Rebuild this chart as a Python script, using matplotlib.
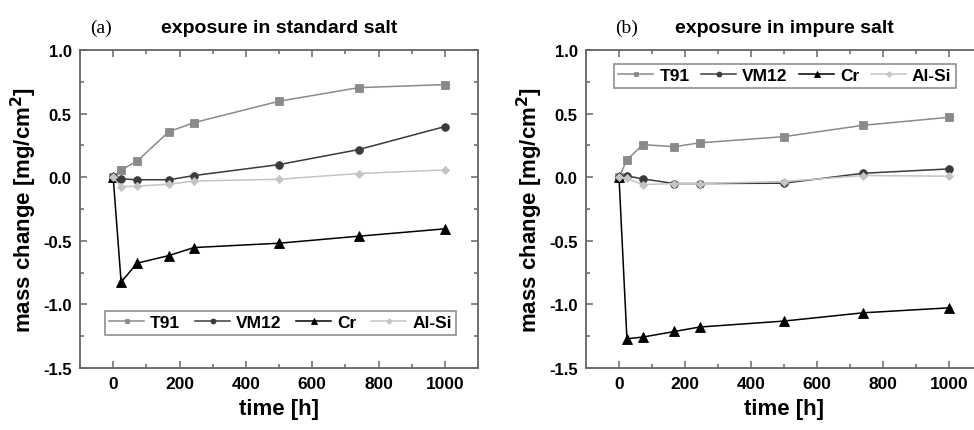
import matplotlib
matplotlib.use("Agg")
import matplotlib.pyplot as plt
from matplotlib.ticker import MultipleLocator

plt.rcParams['font.family'] = ['Liberation Sans', 'DejaVu Sans']
plt.rcParams['font.weight'] = 'bold'

# time points [h]
time_h = [0, 24, 72, 168, 244, 500, 740, 1000]

# (a) standard salt
a_T91 = [0.0, 0.057, 0.126, 0.358, 0.429, 0.597, 0.704, 0.728]
a_VM12 = [0.0, -0.013, -0.02, -0.02, 0.013, 0.099, 0.217, 0.398]
a_Cr = [0.0, -0.825, -0.676, -0.616, -0.553, -0.519, -0.464, -0.406]
a_AlSi = [0.0, -0.075, -0.07, -0.055, -0.03, -0.016, 0.029, 0.057]

# (b) impure salt
b_T91 = [0.0, 0.136, 0.256, 0.24, 0.27, 0.319, 0.408, 0.471]
b_VM12 = [0.0, 0.01, -0.013, -0.05, -0.05, -0.047, 0.031, 0.065]
b_Cr = [0.0, -1.27, -1.257, -1.213, -1.178, -1.131, -1.066, -1.027]
b_AlSi = [0.0, -0.01, -0.058, -0.05, -0.05, -0.034, 0.013, 0.008]

series_names = ["T91", "VM12", "Cr", "Al-Si"]
panel_labels = ["(a)", "(b)"]
titles = ["exposure in standard salt", "exposure in impure salt"]

styles = [
    dict(color="#8a8a8a", marker="s", markersize=5.5),
    dict(color="#3a3a3a", marker="o", markersize=5.5),
    dict(color="#000000", marker="^", markersize=6.5),
    dict(color="#c4c4c4", marker="D", markersize=4.5),
]

W, H = 974, 431
fig = plt.figure(figsize=(W / 100, H / 100), dpi=100)

def px_axes(x0, x1, ytop, ybot):
    return fig.add_axes([x0 / W, 1 - ybot / H, (x1 - x0) / W, (ybot - ytop) / H])

axs = [px_axes(80, 478, 51, 369), px_axes(586, 982, 51, 369)]
data = [[a_T91, a_VM12, a_Cr, a_AlSi], [b_T91, b_VM12, b_Cr, b_AlSi]]
legend_boxes = [(0.063, 0.105, 0.882, 0.09), (0.071, 0.882, 0.863, 0.09)]
spine_col = "#666666"

for i, ax in enumerate(axs):
    for name, vals, st in zip(series_names, data[i], styles):
        ax.plot(time_h, vals, lw=1.1, label=name, clip_on=False,
                markeredgewidth=0.6, markeredgecolor=st["color"], **st)
    ax.set_xlim(-100, 1100)
    ax.set_ylim(-1.5, 1.0)
    ax.xaxis.set_major_locator(MultipleLocator(200))
    ax.xaxis.set_minor_locator(MultipleLocator(100))
    ax.yaxis.set_major_locator(MultipleLocator(0.5))
    ax.yaxis.set_minor_locator(MultipleLocator(0.25))
    ax.set_xticks([0, 200, 400, 600, 800, 1000])
    ax.tick_params(which="both", direction="in", top=True, right=True,
                   color=spine_col, width=1.1)
    ax.tick_params(which="major", length=5)
    ax.tick_params(which="minor", length=3)
    ax.tick_params(axis="x", labelsize=12.5, pad=6)
    ax.tick_params(axis="y", labelsize=12, pad=6)
    for lab in ax.get_xticklabels() + ax.get_yticklabels():
        lab.set_fontweight("bold")
    ax.yaxis.set_major_formatter(plt.FuncFormatter(lambda v, p: f"{v:.1f}"))
    for s in ax.spines.values():
        s.set_color(spine_col)
        s.set_linewidth(1.3)
    ax.set_xlabel("time [h]", fontsize=16, fontweight="bold", labelpad=5)
    ax.set_ylabel("mass change [mg/cm$^\\mathbf{2}$]", fontsize=16, fontweight="bold", labelpad=3)
    ax.set_title(titles[i], fontsize=14, fontweight="bold", pad=13)
    leg = ax.legend(loc="lower left", bbox_to_anchor=legend_boxes[i], mode="expand",
                    ncol=4, frameon=True, fancybox=False,
                    handlelength=2.0, handletextpad=0.35, columnspacing=0.3,
                    borderpad=0.25, borderaxespad=0, markerscale=0.65,
                    prop=dict(weight="bold", size=12.5))
    leg.get_frame().set_edgecolor(spine_col)
    leg.get_frame().set_linewidth(1.1)

fig.text(101 / W, 1 - 28 / H, panel_labels[0], family="Liberation Serif",
         fontweight="normal", fontsize=14, ha="center", va="center")
fig.text(627 / W, 1 - 28 / H, panel_labels[1], family="Liberation Serif",
         fontweight="normal", fontsize=14, ha="center", va="center")

fig.savefig("out.png", dpi=100)
